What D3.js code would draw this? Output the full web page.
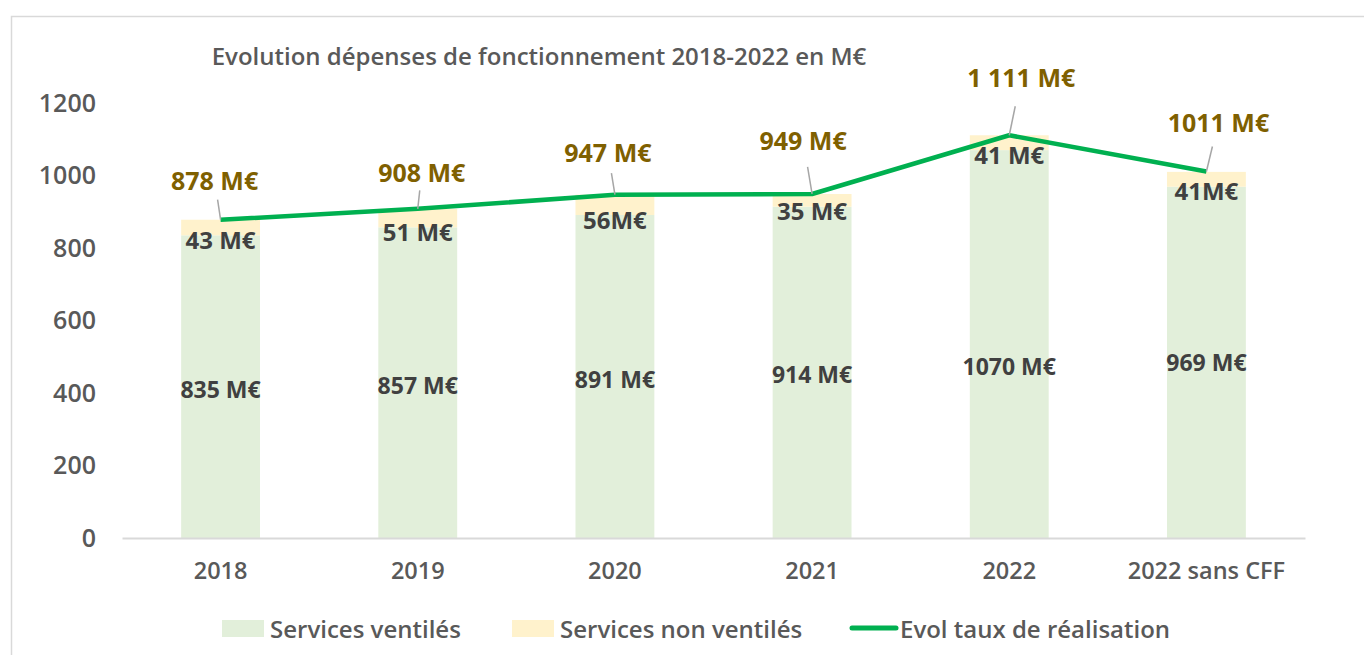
<!doctype html>
<html>
  <head>
    <meta charset="utf-8">
    <title>Evolution dépenses de fonctionnement 2018-2022</title>
    <style>
      body { margin: 0; background: #fff; }
      svg { display: block; font-family: "Open Sans", sans-serif; }
    </style>
    <script src="https://cdnjs.cloudflare.com/ajax/libs/d3/7.8.5/d3.min.js"></script>
  </head>
  <body>
    <div id="chart"></div>
    <script>
      // values (M€)
      const years = ['2018', '2019', '2020', '2021', '2022', '2022 sans CFF'];
      const ventiles = [835, 857, 891, 914, 1070, 969];
      const nonVentiles = [43, 51, 56, 35, 41, 41];
      const totals = [878, 908, 947, 949, 1111, 1011];
      const nonVentilesLabels = ['43 M€', '51 M€', '56M€', '35 M€', '41 M€', '41M€'];
      const totalLabels = ['878 M€', '908 M€', '947 M€', '949 M€', '1 111 M€', '1011 M€'];
      const yTicks = [0, 200, 400, 600, 800, 1000, 1200];
      // where the labels were dragged to in the original
      const labelOffsets = [[-6, -40], [4, -37], [-7, -43], [-9, -54], [12, -58], [12, -50]];
      const baseLabelDy = [2, 2, 2, 2, 22, 0];

      const width = 1364, height = 655;
      const green = '#e2efda', yellow = '#fff2cc', lineColor = '#00b050';

      const svg = d3.select('#chart').append('svg')
        .attr('width', width)
        .attr('height', height);

      // chart frame (only the top and left edges are inside the picture)
      svg.append('rect')
        .attr('x', 11.5).attr('y', 16.5)
        .attr('width', 1400).attr('height', 700)
        .attr('fill', 'none')
        .attr('stroke', '#d9d9d9')
        .attr('stroke-width', 1.5);

      const x = d3.scaleBand()
        .domain(years)
        .range([122, 1305])
        .paddingInner(0.6)
        .paddingOuter(0.3);

      const y = d3.scaleLinear()
        .domain([0, 1200])
        .range([538, 103]);

      svg.append('text')
        .attr('x', 539).attr('y', 55)
        .attr('text-anchor', 'middle')
        .attr('dominant-baseline', 'central')
        .style('font-size', '24px')
        .style('font-weight', 600)
        .style('fill', '#595959')
        .text('Evolution dépenses de fonctionnement 2018-2022 en M€');

      // y axis labels
      const yAxis = svg.append('g')
        .attr('transform', 'translate(96,0)')
        .call(d3.axisLeft(y).tickValues(yTicks).tickSize(0).tickPadding(0).tickFormat(d3.format('d')));
      yAxis.select('.domain').remove();
      yAxis.selectAll('text')
        .style('font-family', '"Open Sans", sans-serif')
        .style('font-size', '25px')
        .style('font-weight', 600)
        .style('fill', '#595959');

      const rows = years.map((yr, i) => ({
        yr, v: ventiles[i], nv: nonVentiles[i], total: totals[i],
        nvLabel: nonVentilesLabels[i], totalLabel: totalLabels[i],
        off: labelOffsets[i], dy: baseLabelDy[i]
      }));

      // stacked bars
      svg.selectAll('rect.v')
        .data(rows).enter().append('rect')
        .attr('class', 'v')
        .attr('x', d => x(d.yr))
        .attr('width', x.bandwidth())
        .attr('y', d => y(d.v))
        .attr('height', d => y(0) - y(d.v))
        .attr('fill', green);

      svg.selectAll('rect.nv')
        .data(rows).enter().append('rect')
        .attr('class', 'nv')
        .attr('x', d => x(d.yr))
        .attr('width', x.bandwidth())
        .attr('y', d => y(d.v + d.nv))
        .attr('height', d => y(d.v) - y(d.v + d.nv))
        .attr('fill', yellow);

      // x axis
      const xAxis = svg.append('g')
        .attr('transform', 'translate(0,538)')
        .call(d3.axisBottom(x).tickSize(0).tickPadding(24));
      xAxis.select('.domain')
        .attr('stroke', '#d9d9d9')
        .attr('stroke-width', 2);
      xAxis.selectAll('text')
        .style('font-family', '"Open Sans", sans-serif')
        .style('font-size', '23.5px')
        .style('font-weight', 600)
        .style('fill', '#595959');

      const cx = d => x(d.yr) + x.bandwidth() / 2;

      // labels inside bars
      svg.selectAll('text.vlab')
        .data(rows).enter().append('text')
        .attr('class', 'vlab')
        .attr('x', cx)
        .attr('y', d => y(d.v / 2) + d.dy)
        .attr('text-anchor', 'middle')
        .attr('dominant-baseline', 'central')
        .style('font-size', '23px')
        .style('font-weight', 700)
        .style('fill', '#404040')
        .text(d => `${d.v} M€`);

      svg.selectAll('text.nvlab')
        .data(rows).enter().append('text')
        .attr('class', 'nvlab')
        .attr('x', cx)
        .attr('y', d => y(d.v) + 4)
        .attr('text-anchor', 'middle')
        .attr('dominant-baseline', 'central')
        .style('font-size', '24px')
        .style('font-weight', 700)
        .style('fill', '#404040')
        .text(d => d.nvLabel);

      // line
      const line = d3.line()
        .x(cx)
        .y(d => y(d.total));

      svg.append('path')
        .datum(rows)
        .attr('d', line)
        .attr('fill', 'none')
        .attr('stroke', lineColor)
        .attr('stroke-width', 4.5)
        .attr('stroke-linejoin', 'round');

      // leader lines + total labels
      svg.selectAll('line.leader')
        .data(rows).enter().append('line')
        .attr('class', 'leader')
        .attr('x1', cx)
        .attr('y1', d => y(d.total))
        .attr('x2', d => cx(d) + d.off[0] * 0.5)
        .attr('y2', d => y(d.total) + d.off[1] * 0.5)
        .attr('stroke', '#a6a6a6')
        .attr('stroke-width', 1.5);

      svg.selectAll('text.tot')
        .data(rows).enter().append('text')
        .attr('class', 'tot')
        .attr('x', d => cx(d) + d.off[0])
        .attr('y', d => y(d.total) + d.off[1])
        .attr('text-anchor', 'middle')
        .attr('dominant-baseline', 'central')
        .style('font-size', '25px')
        .style('font-weight', 700)
        .style('fill', '#7f6000')
        .text(d => d.totalLabel);

      // legend
      const legend = svg.append('g').attr('transform', 'translate(0,628)');
      const items = [
        { name: 'Services ventilés', color: green, type: 'box', x: 222 },
        { name: 'Services non ventilés', color: yellow, type: 'box', x: 512 },
        { name: 'Evol taux de réalisation', color: lineColor, type: 'line', x: 852 }
      ];
      items.forEach(it => {
        if (it.type === 'box') {
          legend.append('rect')
            .attr('x', it.x).attr('y', -8)
            .attr('width', 42).attr('height', 17)
            .attr('fill', it.color);
        } else {
          legend.append('line')
            .attr('x1', it.x).attr('x2', it.x + 44)
            .attr('y1', 0).attr('y2', 0)
            .attr('stroke', it.color)
            .attr('stroke-width', 5)
            .attr('stroke-linecap', 'round');
        }
        legend.append('text')
          .attr('x', it.x + 48)
          .attr('y', 0)
          .attr('dominant-baseline', 'central')
          .style('font-size', '24px')
          .style('font-weight', 600)
          .style('fill', '#595959')
          .text(it.name);
      });
    </script>
  </body>
</html>
